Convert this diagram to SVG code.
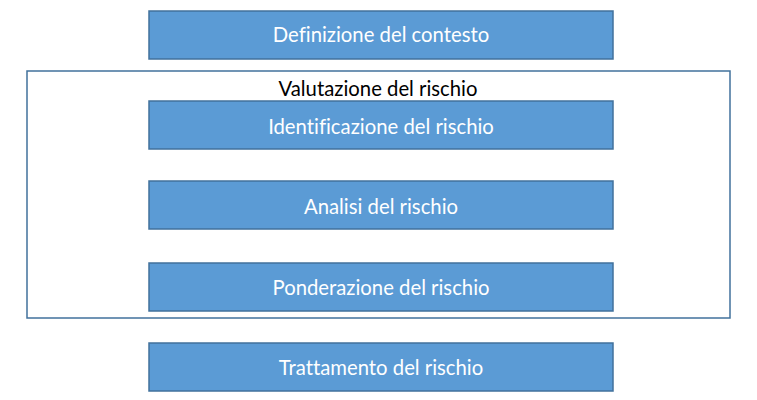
<svg xmlns="http://www.w3.org/2000/svg" width="757" height="400" viewBox="0 0 757 400">
<style>
.box{fill:#5B9BD5;stroke:#41719C;stroke-width:1.5}
.lbl{font-family:Lato,"Open Sans",sans-serif;font-size:20.3px;fill:#ffffff;text-anchor:middle;dominant-baseline:central;font-variant-ligatures:none}
.frame{fill:none;stroke:#41719C;stroke-width:1.5}
.title{font-family:Lato,"Open Sans",sans-serif;font-size:20.3px;fill:#000000;text-anchor:middle;font-variant-ligatures:none}
</style>
<rect width="757" height="400" fill="#ffffff"/>
<g id="valutazione">
<rect class="frame" x="27" y="71" width="703" height="247"/>
<text class="title" x="378" y="96">Valutazione del rischio</text>
</g>
<g id="definizione">
<rect class="box" x="149" y="11" width="464" height="48"/>
<text class="lbl" x="381" y="34">Definizione del contesto</text>
</g>
<g id="identificazione">
<rect class="box" x="149" y="101" width="464" height="48"/>
<text class="lbl" x="381" y="126">Identificazione del rischio</text>
</g>
<g id="analisi">
<rect class="box" x="149" y="181" width="464" height="48"/>
<text class="lbl" x="381" y="206">Analisi del rischio</text>
</g>
<g id="ponderazione">
<rect class="box" x="149" y="263" width="464" height="48"/>
<text class="lbl" x="381" y="287">Ponderazione del rischio</text>
</g>
<g id="trattamento">
<rect class="box" x="149" y="343" width="464" height="48"/>
<text class="lbl" x="381" y="367">Trattamento del rischio</text>
</g>
<g id="connectors"></g>
</svg>
